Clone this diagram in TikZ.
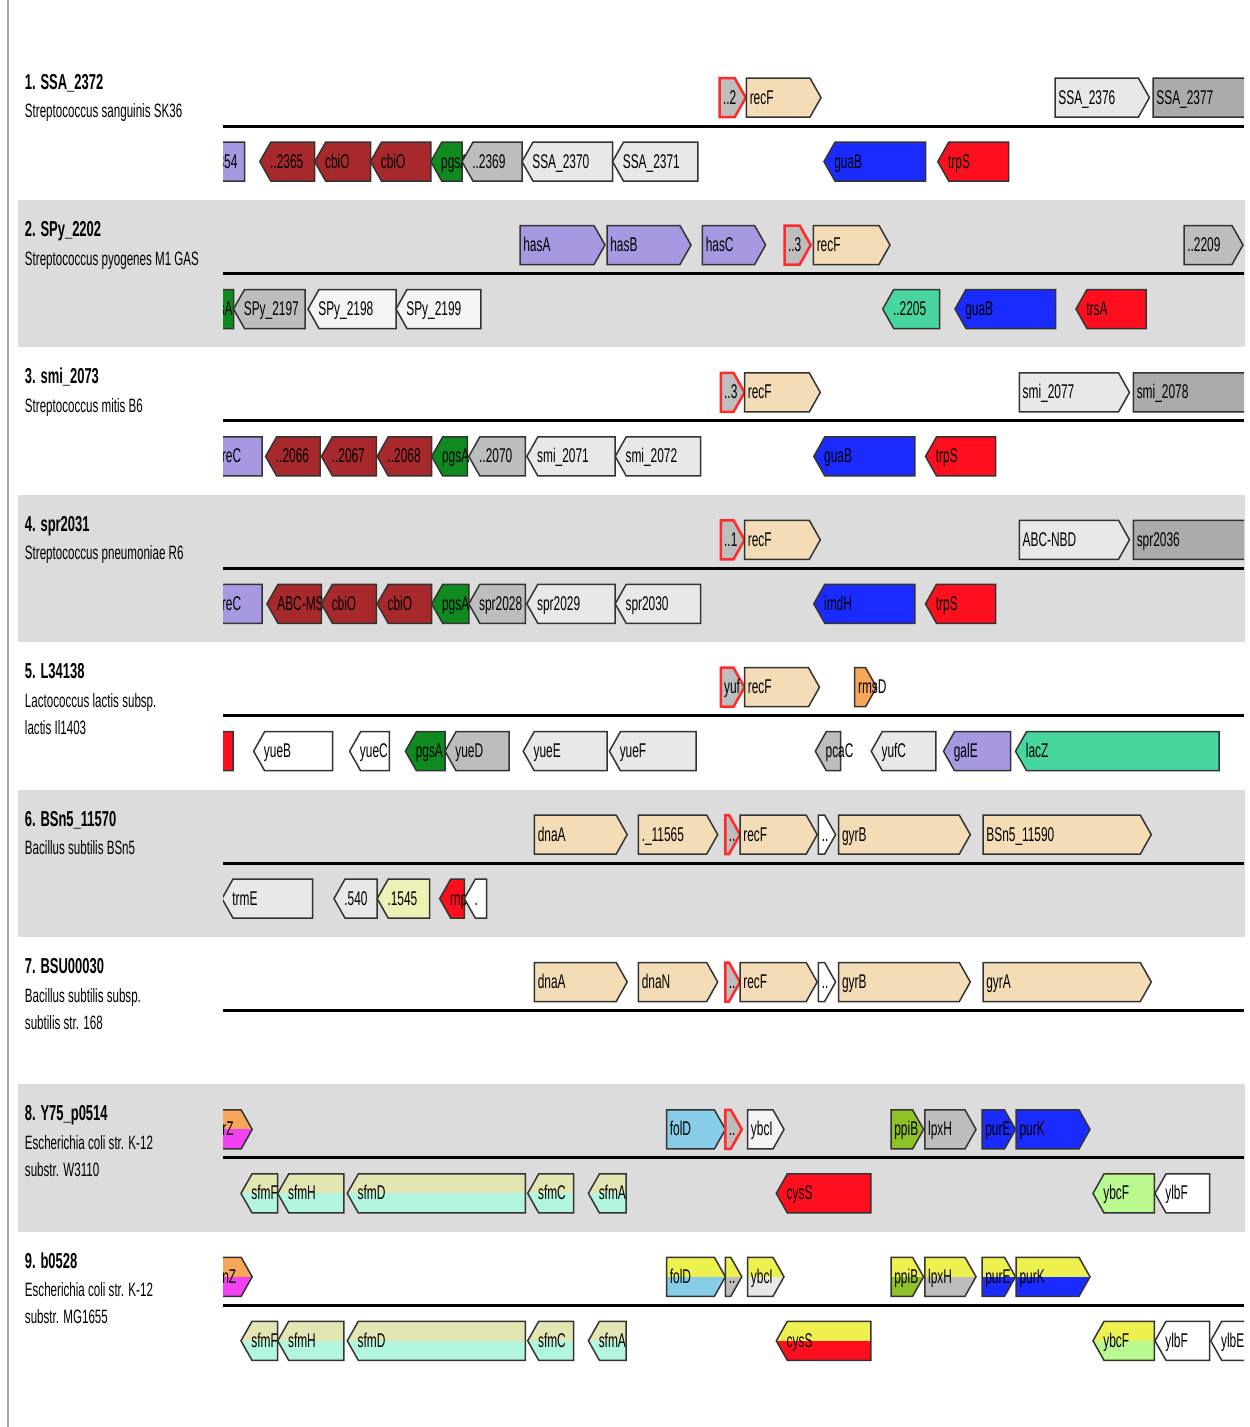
\documentclass[tikz,border=0pt]{standalone}
\usepackage{fontspec}
\newfontfamily\narrowsf[FakeStretch=0.6]{Liberation Sans}
\usepackage{tikz}
\usetikzlibrary{positioning}

\definecolor{gWheat}{HTML}{F4DCB6}
\definecolor{gGray}{HTML}{BDBDBD}
\definecolor{gLtGray}{HTML}{E8E8E8}
\definecolor{gWht}{HTML}{F4F4F4}
\definecolor{gDkGray}{HTML}{ABABAB}
\definecolor{gBrick}{HTML}{A8292B}
\definecolor{gGreen}{HTML}{0E8A1E}
\definecolor{gBlue}{HTML}{1A2BFF}
\definecolor{gRed}{HTML}{FF0E1E}
\definecolor{gLav}{HTML}{A898E2}
\definecolor{gTeal}{HTML}{46D69E}
\definecolor{gOrange}{HTML}{F6A75A}
\definecolor{gMagenta}{HTML}{F042F0}
\definecolor{gSky}{HTML}{88CDE8}
\definecolor{gYellow}{HTML}{EEF050}
\definecolor{gOlive}{HTML}{8EC226}
\definecolor{gLtGreen}{HTML}{BAF890}
\definecolor{gKhaki}{HTML}{E3E5B2}
\definecolor{gAqua}{HTML}{B2F6E2}
\definecolor{gLtYellow}{HTML}{EEF1B6}
\definecolor{bandGray}{HTML}{DCDCDC}
\definecolor{hitRed}{HTML}{FF2A2A}

\newcounter{gn}
\newcommand{\gnh}{19.5}
\newcommand{\gnt}{11}
% upper strand, pointing right
\newcommand{\genefwd}[5][]{%
  \stepcounter{gn}%
  \draw[gene,#4,#1] (#2,45-\gnh) -- (#3-\gnt,45-\gnh) -- (#3,45) -- (#3-\gnt,45+\gnh) -- (#2,45+\gnh) -- cycle;
  \node[glabel] (g\arabic{gn}) at (#2+3,51.5) {#5};}
% lower strand, pointing left
\newcommand{\generev}[5][]{%
  \stepcounter{gn}%
  \draw[gene,#4,#1] (#3,109-\gnh) -- (#2+\gnt,109-\gnh) -- (#2,109) -- (#2+\gnt,109+\gnh) -- (#3,109+\gnh) -- cycle;
  \node[glabel] (g\arabic{gn}) at (#2+10,115.5) {#5};}

\begin{document}
\begin{tikzpicture}[x=0.02cm, y=-0.02cm,
    gene/.style={draw=black!80, line width=0.03cm},
    hit/.style={draw=hitRed, line width=0.05cm},
    split/.style 2 args={fill=#2, path picture={\fill[#1] (path picture bounding box.north west) rectangle (path picture bounding box.east);}},
    glabel/.style={anchor=base west, inner sep=0pt, font=\narrowsf\fontsize{11.3}{13}\selectfont},
    ttl/.style={anchor=base west, inner sep=0pt, font=\narrowsf\bfseries\fontsize{12.3}{14}\selectfont},
    org/.style={anchor=base west, inner sep=0pt, font=\narrowsf\fontsize{11}{13}\selectfont},
    bandfill/.style={fill=bandGray},
    strand/.style={line width=0.06cm}]
  \useasboundingbox (0,0) rectangle (1250,1427);

  \foreach \T in {200,494.8,789.6,1084.4}
    \fill[bandfill] (18,\T) rectangle (1245,\T+147.4);
  \draw[line width=0.04cm, black!35] (8,0) -- (8,1427);

  % row 1
  \begin{scope}[shift={(0,52.6)}]
    \node[ttl] (t1) at (24.6,36.5) {1. SSA\_2372};
    \node[org] (o1) at (24.6,65) {Streptococcus sanguinis SK36};
    \draw[strand] (223,73.5) -- (1244,73.5);
    \begin{scope}
      \clip (223,0) rectangle (1244,147.4);
      \genefwd[hit]{719.7}{745.7}{fill=gGray}{..2}
      \genefwd{746.4}{821}{fill=gWheat}{recF}
      \genefwd{1055}{1149.4}{fill=gLtGray}{SSA\_2376}
      \genefwd{1153}{1300}{fill=gDkGray}{SSA\_2377}
      \generev{194}{244.6}{fill=gLav}{..2354}
      \generev{259.8}{314.7}{fill=gBrick}{..2365}
      \generev{314.7}{370.5}{fill=gBrick}{cbiO}
      \generev{370.5}{430.8}{fill=gBrick}{cbiO}
      \generev{430.8}{462}{fill=gGreen}{pgsA}
      \generev{462}{522}{fill=gGray}{..2369}
      \generev{522}{612.5}{fill=gLtGray}{SSA\_2370}
      \generev{612.5}{697.8}{fill=gLtGray}{SSA\_2371}
      \generev{824}{925.5}{fill=gBlue}{guaB}
      \generev{937.8}{1008.6}{fill=gRed}{trpS}
    \end{scope}
  \end{scope}

  % row 2
  \begin{scope}[shift={(0,200)}]
    \node[ttl] (t2) at (24.6,36.5) {2. SPy\_2202};
    \node[org] (o2) at (24.6,65) {Streptococcus pyogenes M1 GAS};
    \draw[strand] (223,73.5) -- (1244,73.5);
    \begin{scope}
      \clip (223,0) rectangle (1244,147.4);
      \genefwd{520}{605}{fill=gLav}{hasA}
      \genefwd{607}{691}{fill=gLav}{hasB}
      \genefwd{702.4}{765.6}{fill=gLav}{hasC}
      \genefwd[hit]{784.7}{810.7}{fill=gGray}{..3}
      \genefwd{813.4}{890}{fill=gWheat}{recF}
      \genefwd{1184}{1243}{fill=gGray}{..2209}
      \generev{195}{233.5}{fill=gGreen}{pgsA}
      \generev{233.5}{305}{fill=gGray}{SPy\_2197}
      \generev{308}{396}{fill=gWht}{SPy\_2198}
      \generev{396}{480.8}{fill=gWht}{SPy\_2199}
      \generev{882.7}{939.7}{fill=gTeal}{..2205}
      \generev{955}{1055.7}{fill=gBlue}{guaB}
      \generev{1076}{1146}{fill=gRed}{trsA}
    \end{scope}
  \end{scope}

  % row 3
  \begin{scope}[shift={(0,347.4)}]
    \node[ttl] (t3) at (24.6,36.5) {3. smi\_2073};
    \node[org] (o3) at (24.6,65) {Streptococcus mitis B6};
    \draw[strand] (223,73.5) -- (1244,73.5);
    \begin{scope}
      \clip (223,0) rectangle (1244,147.4);
      \genefwd[hit]{720.8}{744.5}{fill=gGray}{..3}
      \genefwd{744.5}{820.3}{fill=gWheat}{recF}
      \genefwd{1019.3}{1129.5}{fill=gLtGray}{smi\_2077}
      \genefwd{1133.4}{1300}{fill=gDkGray}{smi\_2078}
      \generev{205}{262}{fill=gLav}{ureC}
      \generev{265.6}{320}{fill=gBrick}{..2066}
      \generev{321.4}{376.3}{fill=gBrick}{..2067}
      \generev{377.2}{431.7}{fill=gBrick}{..2068}
      \generev{431.7}{467.4}{fill=gGreen}{pgsA}
      \generev{468.8}{525.4}{fill=gGray}{..2070}
      \generev{526.8}{615.2}{fill=gLtGray}{smi\_2071}
      \generev{615.2}{700.5}{fill=gLtGray}{smi\_2072}
      \generev{813.8}{914.8}{fill=gBlue}{guaB}
      \generev{925.5}{995.6}{fill=gRed}{trpS}
    \end{scope}
  \end{scope}

  % row 4
  \begin{scope}[shift={(0,494.8)}]
    \node[ttl] (t4) at (24.6,36.5) {4. spr2031};
    \node[org] (o4) at (24.6,65) {Streptococcus pneumoniae R6};
    \draw[strand] (223,73.5) -- (1244,73.5);
    \begin{scope}
      \clip (223,0) rectangle (1244,147.4);
      \genefwd[hit]{720.8}{744.5}{fill=gGray}{..1}
      \genefwd{744.5}{820.3}{fill=gWheat}{recF}
      \genefwd{1019.3}{1129.5}{fill=gLtGray}{ABC-NBD}
      \genefwd{1133.4}{1300}{fill=gDkGray}{spr2036}
      \generev{205}{262}{fill=gLav}{ureC}
      \generev{267}{321.4}{fill=gBrick}{ABC-MS}
      \generev{321.4}{376.3}{fill=gBrick}{cbiO}
      \generev{377.2}{431.7}{fill=gBrick}{cbiO}
      \generev{431.7}{468.8}{fill=gGreen}{pgsA}
      \generev{468.8}{525.4}{fill=gGray}{spr2028}
      \generev{526.8}{615.2}{fill=gLtGray}{spr2029}
      \generev{615.2}{700.5}{fill=gLtGray}{spr2030}
      \generev{813.8}{914.8}{fill=gBlue}{imdH}
      \generev{925.5}{995.6}{fill=gRed}{trpS}
    \end{scope}
  \end{scope}

  % row 5
  \begin{scope}[shift={(0,642.2)}]
    \node[ttl] (t5) at (24.6,36.5) {5. L34138};
    \node[org] (o5) at (24.6,65) {Lactococcus lactis subsp.};
    \node[org] (p5) at (24.6,92) {lactis Il1403};
    \draw[strand] (223,73.5) -- (1244,73.5);
    \begin{scope}
      \clip (223,0) rectangle (1244,147.4);
      \genefwd[hit]{720.8}{744.5}{fill=gGray}{yuf}
      \genefwd{744.5}{819.5}{fill=gWheat}{recF}
      \genefwd{854.7}{876.6}{fill=gOrange}{rmsD}
      \generev{180}{233}{fill=gRed}{}
      \generev{253.6}{332.6}{fill=white}{yueB}
      \generev{349.6}{389.3}{fill=white}{yueC}
      \generev{405.4}{445}{fill=gGreen}{pgsA}
      \generev{445}{509}{fill=gGray}{yueD}
      \generev{523.2}{607}{fill=gLtGray}{yueE}
      \generev{609.4}{696}{fill=gLtGray}{yueF}
      \generev{815.3}{840.6}{fill=gGray}{pcaC}
      \generev{871.2}{935.9}{fill=gLtGray}{yufC}
      \generev{943.5}{1010.5}{fill=gLav}{galE}
      \generev{1015.5}{1219}{fill=gTeal}{lacZ}
    \end{scope}
  \end{scope}

  % row 6
  \begin{scope}[shift={(0,789.6)}]
    \node[ttl] (t6) at (24.6,36.5) {6. BSn5\_11570};
    \node[org] (o6) at (24.6,65) {Bacillus subtilis BSn5};
    \draw[strand] (223,73.5) -- (1244,73.5);
    \begin{scope}
      \clip (223,0) rectangle (1244,147.4);
      \genefwd{534.4}{627.2}{fill=gWheat}{dnaA}
      \genefwd{638.4}{717.7}{fill=gWheat}{.\_11565}
      \genefwd[hit]{725.4}{740}{fill=gGray}{..}
      \genefwd{740}{817.2}{fill=gWheat}{recF}
      \genefwd{818.4}{835.6}{fill=white}{..}
      \genefwd{838.7}{970.3}{fill=gWheat}{gyrB}
      \genefwd{983}{1151.3}{fill=gWheat}{BSn5\_11590}
      \generev{222}{312.5}{fill=gLtGray}{trmE}
      \generev{334}{377.2}{fill=gLtGray}{.540}
      \generev{377.2}{429.5}{fill=gLtYellow}{.1545}
      \generev{439.7}{464.3}{fill=gRed}{rnpA}
      \generev{464.3}{486.6}{fill=white}{.}
    \end{scope}
  \end{scope}

  % row 7
  \begin{scope}[shift={(0,937)}]
    \node[ttl] (t7) at (24.6,36.5) {7. BSU00030};
    \node[org] (o7) at (24.6,65) {Bacillus subtilis subsp.};
    \node[org] (p7) at (24.6,92) {subtilis str. 168};
    \draw[strand] (223,73.5) -- (1244,73.5);
    \begin{scope}
      \clip (223,0) rectangle (1244,147.4);
      \genefwd{534.4}{627.2}{fill=gWheat}{dnaA}
      \genefwd{638.4}{717.7}{fill=gWheat}{dnaN}
      \genefwd[hit]{725.4}{740}{fill=gGray}{..}
      \genefwd{740}{817.2}{fill=gWheat}{recF}
      \genefwd{818.4}{835.6}{fill=white}{..}
      \genefwd{838.7}{970.3}{fill=gWheat}{gyrB}
      \genefwd{983}{1151.3}{fill=gWheat}{gyrA}
    \end{scope}
  \end{scope}

  % row 8
  \begin{scope}[shift={(0,1084.4)}]
    \node[ttl] (t8) at (24.6,36.5) {8. Y75\_p0514};
    \node[org] (o8) at (24.6,65) {Escherichia coli str. K-12};
    \node[org] (p8) at (24.6,92) {substr. W3110};
    \draw[strand] (223,73.5) -- (1244,73.5);
    \begin{scope}
      \clip (223,0) rectangle (1244,147.4);
      \genefwd{219}{252.2}{split={gOrange}{gMagenta}}{rZ}
      \genefwd{666.5}{725.4}{fill=gSky}{folD}
      \genefwd[hit]{725.4}{741.8}{fill=gGray}{..}
      \genefwd{747.6}{784}{fill=gWht}{ybcI}
      \genefwd{891}{923.6}{fill=gOlive}{ppiB}
      \genefwd{924.8}{976}{fill=gGray}{lpxH}
      \genefwd{982}{1015.5}{fill=gBlue}{purE}
      \genefwd{1016.2}{1090}{fill=gBlue}{purK}
      \generev{241}{277.7}{split={gKhaki}{gAqua}}{sfmF}
      \generev{277.7}{343.8}{split={gKhaki}{gAqua}}{sfmH}
      \generev{347.3}{525.4}{split={gKhaki}{gAqua}}{sfmD}
      \generev{527.7}{573.7}{split={gKhaki}{gAqua}}{sfmC}
      \generev{588.4}{626}{split={gKhaki}{gAqua}}{sfmA}
      \generev{776.3}{870.8}{fill=gRed}{cysS}
      \generev{1093}{1154.4}{fill=gLtGreen}{ybcF}
      \generev{1155}{1209.5}{fill=white}{ylbF}
    \end{scope}
  \end{scope}

  % row 9
  \begin{scope}[shift={(0,1231.8)}]
    \node[ttl] (t9) at (24.6,36.5) {9. b0528};
    \node[org] (o9) at (24.6,65) {Escherichia coli str. K-12};
    \node[org] (p9) at (24.6,92) {substr. MG1655};
    \draw[strand] (223,73.5) -- (1244,73.5);
    \begin{scope}
      \clip (223,0) rectangle (1244,147.4);
      \genefwd{219}{252.2}{split={gOrange}{gMagenta}}{nZ}
      \genefwd{666.5}{725.4}{split={gYellow}{gSky}}{folD}
      \genefwd{725.4}{741.8}{split={gYellow}{gGray}}{..}
      \genefwd{747.6}{784}{split={gYellow}{gLtGray}}{ybcI}
      \genefwd{891}{923.6}{split={gYellow}{gOlive}}{ppiB}
      \genefwd{924.8}{976}{split={gYellow}{gGray}}{lpxH}
      \genefwd{982}{1015.5}{split={gYellow}{gBlue}}{purE}
      \genefwd{1016.2}{1090}{split={gYellow}{gBlue}}{purK}
      \generev{241}{277.7}{split={gKhaki}{gAqua}}{sfmF}
      \generev{277.7}{343.8}{split={gKhaki}{gAqua}}{sfmH}
      \generev{347.3}{525.4}{split={gKhaki}{gAqua}}{sfmD}
      \generev{527.7}{573.7}{split={gKhaki}{gAqua}}{sfmC}
      \generev{588.4}{626}{split={gKhaki}{gAqua}}{sfmA}
      \generev{776.3}{870.8}{split={gYellow}{gRed}}{cysS}
      \generev{1093}{1154.4}{split={gYellow}{gLtGreen}}{ybcF}
      \generev{1155}{1209.5}{fill=white}{ylbF}
      \generev{1210.7}{1270}{fill=white}{ylbE}
    \end{scope}
  \end{scope}
\end{tikzpicture}
\end{document}
